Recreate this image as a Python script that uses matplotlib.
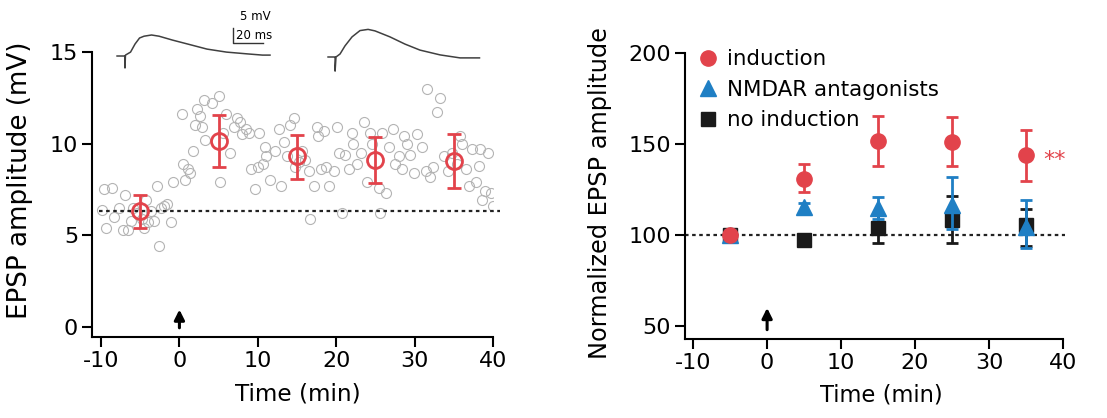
import numpy as np
import matplotlib
matplotlib.use('Agg')
import matplotlib.pyplot as plt
from matplotlib.lines import Line2D

plt.rcParams['axes.unicode_minus'] = False

RED = '#e2434b'
BLUE = '#1f7fc4'
BLACK = '#1a1a1a'
GRAY = '#b4b4b4'

# ---- left panel: single cell time course ----
raw_t = [-9.9, -9.6, -9.4, -8.6, -8.4, -7.7, -7.2, -6.9, -6.6, -6.2, -5.9, -5.4,
         -4.8, -4.5, -4.2, -4.0, -3.6, -3.2, -2.9, -2.6, -2.3, -2.0, -1.6, -1.1, -0.8,
         0.3, 0.4, 0.7, 1.1, 1.4, 1.7, 2.0, 2.2, 2.6, 2.9, 3.1, 3.3, 4.1, 5.0, 5.2,
         5.5, 6.0, 6.5, 6.9, 7.3, 7.7, 8.0, 8.5, 8.9, 9.1, 9.7, 10.0, 10.2, 10.7,
         10.9, 11.1, 11.6, 12.2, 12.7, 12.9, 13.3, 13.7, 14.1, 14.6, 14.8, 15.3,
         15.6, 16.0, 16.5, 16.7, 17.2, 17.5, 17.7, 18.0, 18.4, 18.7, 19.1, 19.7,
         20.1, 20.4, 20.7, 21.1, 21.6, 22.0, 22.2, 22.6, 23.1, 23.5, 23.9, 24.3,
         24.6, 25.4, 25.6, 25.8, 26.3, 26.7, 27.2, 27.5, 28.0, 28.4, 28.6, 29.0,
         29.4, 29.9, 30.3, 30.9, 31.4, 31.6, 32.0, 32.4, 32.9, 33.3, 33.7, 34.3,
         34.8, 35.4, 35.8, 36.0, 36.5, 36.9, 37.3, 37.8, 38.2, 38.4, 38.6, 39.0,
         39.4, 39.7, 40.0]
raw_v = [6.4, 7.5, 5.4, 7.6, 6.0, 6.5, 5.3, 7.2, 5.3, 5.8, 6.5, 6.2,
         5.9, 5.4, 6.9, 5.7, 6.3, 5.8, 7.7, 4.4, 6.5, 6.6, 6.7, 5.7, 7.9,
         11.6, 8.9, 8.0, 8.6, 8.4, 9.6, 11.0, 11.9, 11.5, 10.9, 12.4, 10.2, 12.2, 12.6, 7.9,
         10.6, 11.6, 9.5, 10.9, 11.4, 11.2, 10.5, 10.8, 10.6, 8.6, 7.5, 8.7, 10.6, 8.9,
         9.8, 9.3, 8.0, 9.6, 10.8, 7.7, 10.1, 9.3, 11.0, 11.4, 8.7, 9.0,
         9.6, 9.1, 8.5, 5.9, 7.7, 10.9, 10.4, 8.6, 10.7, 8.7, 7.7, 8.5,
         10.9, 9.5, 6.2, 9.4, 8.6, 10.6, 10.0, 8.9, 9.5, 11.2, 7.9, 10.6,
         10.0, 7.6, 6.2, 10.6, 7.3, 9.8, 10.8, 8.9, 9.3, 8.6, 10.4, 10.0,
         9.4, 8.4, 10.5, 9.8, 8.5, 13.0, 8.2, 8.7, 11.7, 12.5, 9.3, 8.5,
         9.5, 8.9, 10.4, 10.0, 8.6, 7.7, 9.7, 7.9, 8.8, 9.7, 6.9, 7.4,
         9.5, 7.3, 6.6]
bin_t = [-5, 5, 15, 25, 35]
bin_v = [6.3, 10.15, 9.3, 9.1, 9.07]
bin_lo = [0.92, 1.4, 1.24, 1.24, 1.47]
bin_hi = [0.88, 1.41, 1.18, 1.27, 1.46]
baseline_mv = 6.3

# example traces (ms, mV relative to baseline)
tr1_t = [0, 5, 5.3, 5.3, 5.6, 9, 12, 15, 18, 23, 28, 37, 47, 60, 73, 87, 97, 102]
tr1_v = [0, 0, 0, -4.0, 0.3, 1.3, 4.0, 6.0, 6.6, 7.0, 6.6, 5.3, 4.0, 2.3, 1.3, 0.7, 0.3, 0.3]
tr2_t = [0, 4, 4.7, 4.7, 5.3, 8, 11.3, 16, 21.3, 26.7, 31.3, 41.3, 51.3, 61.3, 74.7, 88, 101]
tr2_v = [0, 0, 0, -4.7, 0, 1.0, 3.7, 6.7, 8.8, 9.2, 8.7, 6.7, 4.3, 2.3, 0.7, -0.3, -0.3]
tr2_offset = 140.7

# ---- right panel: group data ----
grp_t = [-5, 5, 15, 25, 35]
ind_v = [100, 130.8, 151.8, 151.3, 143.8]
ind_lo = [0, 7.4, 13.8, 13.3, 14.0]
ind_hi = [0, 8.0, 13.7, 13.3, 13.9]
nmda_v = [100, 115.2, 114.8, 116.5, 104.5]
nmda_lo = [3, 2.5, 6.0, 13.0, 11.8]
nmda_hi = [3, 2.5, 6.0, 15.5, 14.5]
noind_v = [100, 97.2, 104.0, 108.2, 105.5]
noind_lo = [0, 2.0, 8.2, 12.4, 11.3]
noind_hi = [0, 2.0, 7.0, 13.4, 8.8]

fig = plt.figure(figsize=(11.07, 4.18), dpi=100)

arrow_props = dict(arrowstyle='-|>,head_width=0.3,head_length=0.6', color='black', lw=2.2)

# left axes
ax1 = fig.add_axes([92 / 1107, 1 - 337 / 418, 401 / 1107, 285 / 418])
ax1.plot(raw_t, raw_v, 'o', ms=7.2, mfc='none', mec=GRAY, mew=0.8, zorder=2)
ax1.errorbar(bin_t, bin_v, yerr=[bin_lo, bin_hi], fmt='o', ms=11.5, mfc='none',
             mec=RED, mew=2, ecolor=RED, elinewidth=2, capsize=4.7, capthick=2, zorder=4)
ax1.plot([-10.2, 40.9], [baseline_mv, baseline_mv], color='#222222', lw=1.6,
         dashes=(1.6, 1.6), clip_on=False, zorder=3)
ax1.annotate('', xy=(0, 1.1), xytext=(0, -0.2), arrowprops=arrow_props)
ax1.set_xlim(-11.15, 40)
ax1.set_ylim(-0.55, 15)
ax1.set_xticks([-10, 0, 10, 20, 30, 40])
ax1.set_yticks([0, 5, 10, 15])
ax1.set_xlabel('Time (min)', fontsize=16.7)
ax1.set_ylabel('EPSP amplitude (mV)', fontsize=18.8)
ax1.xaxis.set_label_coords(0.514, -0.158)
ax1.yaxis.set_label_coords(-0.147, 0.55)

# right axes
ax2 = fig.add_axes([685 / 1107, 1 - 339 / 418, 378 / 1107, 286 / 418])
ax2.plot([-11.1, 40.3], [100, 100], color='#222222', lw=1.6, dashes=(1.6, 1.6),
         clip_on=False, zorder=1)
ax2.errorbar(grp_t, noind_v, yerr=[noind_lo, noind_hi], fmt='s', ms=10, color=BLACK,
             elinewidth=2, capsize=4.3, capthick=2, zorder=3)
ax2.errorbar(grp_t, nmda_v, yerr=[nmda_lo, nmda_hi], fmt='^', ms=12, color=BLUE,
             elinewidth=2, capsize=4.3, capthick=2, zorder=4)
ax2.errorbar(grp_t, ind_v, yerr=[ind_lo, ind_hi], fmt='o', ms=11, color=RED,
             elinewidth=2, capsize=4.3, capthick=2, zorder=5)
ax2.text(37.3, 141, '**', color=RED, fontsize=16, ha='left', va='center')
ax2.annotate('', xy=(0, 61.5), xytext=(0, 46.5), arrowprops=arrow_props)
ax2.set_xlim(-11.1, 40)
ax2.set_ylim(42.9, 200)
ax2.set_xticks([-10, 0, 10, 20, 30, 40])
ax2.set_yticks([50, 100, 150, 200])
ax2.set_xlabel('Time (min)', fontsize=16.3)
ax2.set_ylabel('Normalized EPSP amplitude', fontsize=17.3)
ax2.xaxis.set_label_coords(0.52, -0.154)
ax2.yaxis.set_label_coords(-0.193, 0.51)

handles = [Line2D([], [], ls='none', marker='o', ms=11, color=RED),
           Line2D([], [], ls='none', marker='^', ms=12, color=BLUE),
           Line2D([], [], ls='none', marker='s', ms=10, color=BLACK)]
ax2.legend(handles, ['induction', 'NMDAR antagonists', 'no induction'], loc='upper left',
           bbox_to_anchor=(0.016, 1.043), frameon=False, fontsize=15.4, handlelength=0.8,
           handletextpad=0.5, labelspacing=0.49, borderaxespad=0)

for ax in (ax1, ax2):
    for s in ('top', 'right'):
        ax.spines[s].set_visible(False)
    for s in ('left', 'bottom'):
        ax.spines[s].set_linewidth(1.5)
    ax.tick_params(direction='out', length=7, width=1.5, labelsize=16, pad=3)

# example traces above the left panel
axt = fig.add_axes([110 / 1107, 1 - 75 / 418, 380 / 1107, 65 / 418])
axt.plot(tr1_t, tr1_v, color='#404040', lw=1.1)
axt.plot(np.array(tr2_t) + tr2_offset, np.array(tr2_v) - 0.33, color='#404040', lw=1.1)
axt.plot([77.3, 77.3, 97.3], [9.3, 4.3, 4.3], color='#333333', lw=1)
axt.text(82, 13.2, '5 mV', fontsize=8.5, ha='left', va='center')
axt.text(79, 6.9, '20 ms', fontsize=8.5, ha='left', va='center')
axt.set_xlim(-4.7, 248.7)
axt.set_ylim(-6.33, 15.33)
axt.axis('off')

fig.savefig('out.png', dpi=100)
